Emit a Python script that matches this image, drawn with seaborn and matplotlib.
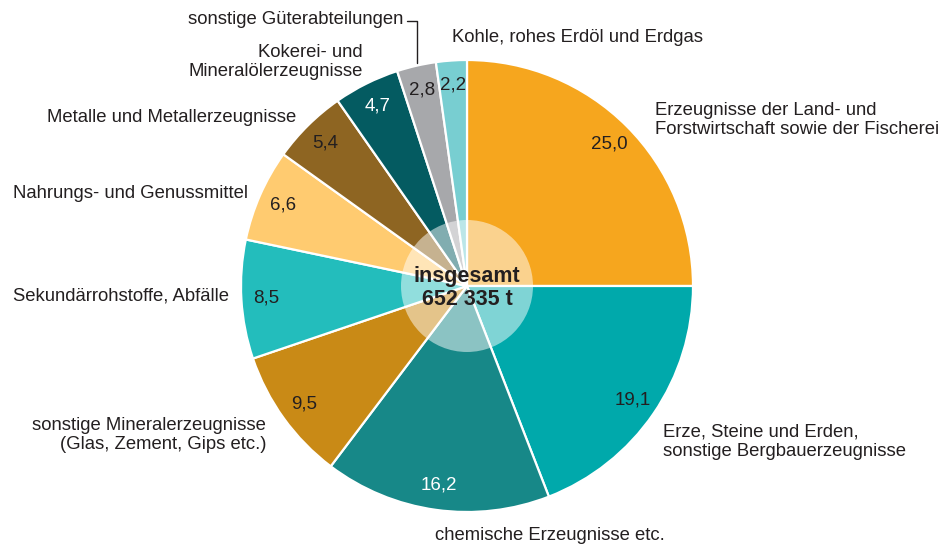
import numpy as np
import matplotlib
matplotlib.use("Agg")
import matplotlib.pyplot as plt
import seaborn as sns

# Daten (Anteile in %), im Uhrzeigersinn ab 12 Uhr
categories = [
    "Erzeugnisse der Land- und\nForstwirtschaft sowie der Fischerei",
    "Erze, Steine und Erden,\nsonstige Bergbauerzeugnisse",
    "chemische Erzeugnisse etc.",
    "sonstige Mineralerzeugnisse\n(Glas, Zement, Gips etc.)",
    "Sekundärrohstoffe, Abfälle",
    "Nahrungs- und Genussmittel",
    "Metalle und Metallerzeugnisse",
    "Kokerei- und\nMineralölerzeugnisse",
    "sonstige Güterabteilungen",
    "Kohle, rohes Erdöl und Erdgas",
]
shares = [25.0, 19.1, 16.2, 9.5, 8.5, 6.6, 5.4, 4.7, 2.8, 2.2]
colors = ["#F6A61E", "#00A9AB", "#178888", "#C98A16", "#23BDBC",
          "#FFCB70", "#8E6522", "#045B61", "#A7A8AB", "#78CED1"]
value_text_colors = ["#231F20", "#231F20", "white", "#231F20", "#231F20",
                     "#231F20", "#231F20", "white", "#231F20", "#231F20"]
total_label = "insgesamt\n652 335 t"

sns.set_style("white")
plt.rcParams['font.family'] = ['Liberation Sans', 'DejaVu Sans']

fig = plt.figure(figsize=(9.46, 5.46), dpi=100)
ax = fig.add_axes([0, 0, 1, 1])

cx, cy, R = 467, 286, 226
# ylim invertiert -> counterclock=True erscheint im Bild im Uhrzeigersinn
wedges, _ = ax.pie(shares, colors=colors, startangle=-90, counterclock=True,
                   radius=R, center=(cx, cy), frame=True,
                   wedgeprops=dict(edgecolor="white", linewidth=1.6))
ax.set_xlim(0, 946)
ax.set_ylim(546, 0)
ax.set_aspect("equal")
ax.axis("off")

# Werte in den Segmenten
cum = np.cumsum([0] + shares)
for i, v in enumerate(shares):
    mid = (cum[i] + cum[i + 1]) / 2 / 100 * 2 * np.pi
    r = R * 0.89
    x = cx + r * np.sin(mid)
    y = cy - r * np.cos(mid)
    ax.text(x, y, f"{v:.1f}".replace(".", ","), ha="center", va="center",
            fontsize=13.5, color=value_text_colors[i])

# halbtransparenter Kreis in der Mitte
ax.add_patch(plt.Circle((cx, cy), 66, color="white", alpha=0.5, lw=0))
ax.text(cx, cy + 2, total_label, ha="center", va="center", fontsize=15.5,
        fontweight="bold", color="#231F20", linespacing=1.1)

# Beschriftungen außen
tc = "#231F20"
label_pos = [
    (655, 120, "left"),
    (663, 442, "left"),
    (435, 535, "left"),
    (266, 435, "right"),
    (229, 296, "right"),
    (248, 193, "right"),
    (296, 118, "right"),
    (363, 62, "right"),
    (403, 19, "right"),
    (452, 38, "left"),
]
for lab, (x, y, ha) in zip(categories, label_pos):
    ax.text(x, y, lab, ha=ha, va="center", fontsize=13.3, color=tc,
            linespacing=1.22)

# Hinweislinie für "sonstige Güterabteilungen"
ax.plot([407, 417, 417], [21, 21, 63], color=tc, lw=1)

fig.savefig("out.png", dpi=100)
